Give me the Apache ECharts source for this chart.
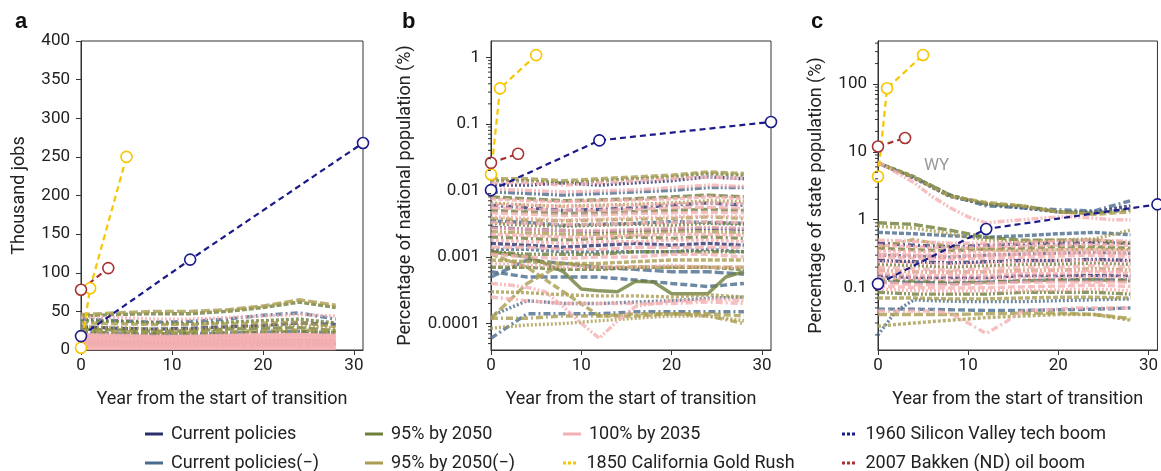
<!DOCTYPE html>
<html><head><meta charset="utf-8">
<script src="https://cdn.jsdelivr.net/npm/echarts@6/dist/echarts.min.js"></script>
<style>html,body{margin:0;padding:0;background:#fff}#c{width:1161px;height:471px}</style>
</head><body><div id="c"></div>
<script>
// ---------- x grids ----------
const YR8 = [0,4,8,12,16,20,24,28];
const YR15 = [0,2,4,6,8,10,12,14,16,18,20,22,24,26,28];

// ---------- historical booms ----------
const svYears = [0,12,31];
const sv_a = [18,117,268];
const sv_b = [0.0101,0.0565,0.107];
const sv_c = [0.113,0.73,1.68];
const grYears = [0,1,5];
const gr_a = [3,80,250];
const gr_b = [0.0174,0.342,1.08];
const gr_c = [4.33,86.5,267];
const bkYears = [0,3];
const bk_a = [78,106];
const bk_b = [0.026,0.0355];
const bk_c = [12,16];

// ---------- panel a: thousand jobs ----------
const cp_a = [[30,28,27,28,30,32,35,33],[12,11,10,11,12,12,13,12]];
const cpm_a = [[40,38,36,37,40,45,48,40],[22,21,20,21,22,23,24,22],[8,8,7,7,8,8,8,8]];
const n95_a = [[44,46,47,47,50,55,62,55],[38,37,35,34,36,38,40,35],[27,26,24,25,27,28,29,25],[23,22,21,21,22,23,24,22]];
const n95m_a = [[46,48,50,50,52,57,65,58],[35,34,33,33,34,35,36,30],[30,29,27,27,29,31,32,28],[25,24,23,23,24,25,26,24]];
const p100_a = [[42,42,40,40,42,44,46,44],[20,19,18,18,19,20,20,19],[18,18,17,17,18,18,19,18],[16,16,15,15,16,16,16,16],
  [14,14,13,13,14,14,14,14],[12,12,11,11,12,12,12,12],[10,10,9,9,10,10,10,10],[8,8,7,7,8,8,8,8],
  [6,6,5,5,6,6,6,6],[4,4,4,4,4,4,4,4],[2,2,2,2,2,2,2,2]];

// ---------- panel b: % of national population ----------
const cp_b = [
  [0.012,0.012,0.013,0.012,0.013,0.014,0.016,0.015],
  [0.006,0.0055,0.005,0.0052,0.0055,0.006,0.0065,0.006],
  [0.0028,0.0026,0.0025,0.0024,0.0025,0.0026,0.0027,0.0026],
  [0.0016,0.0015,0.0014,0.0015,0.0016,0.0015,0.0016,0.0015]];
const cpm_b = [
  [0.0095,0.009,0.0085,0.009,0.0095,0.01,0.011,0.011],
  [0.0035,0.0033,0.003,0.0031,0.0032,0.0034,0.0033,0.0032],
  [0.0013,0.0013,0.0012,0.0012,0.0012,0.0012,0.0013,0.0012],
  [0.0005,0.0009,0.0008,0.0007,0.00065,0.0006,0.0006,0.00055],
  [0.0006,0.0005,0.0005,0.0005,0.00045,0.0004,0.00036,0.0004],
  [0.00013,0.00022,0.0002,0.0002,0.00021,0.00022,0.00024,0.00025],
  [0.00006,0.00014,0.00014,0.00014,0.00015,0.00015,0.00015,0.00015]];
const n95_b = [
  [0.014,0.014,0.013,0.014,0.015,0.016,0.018,0.017],
  [0.008,0.0075,0.007,0.0072,0.0075,0.008,0.0085,0.008],
  [0.005,0.0048,0.0045,0.0046,0.0048,0.005,0.0052,0.005],
  [0.0032,0.003,0.0029,0.003,0.0031,0.003,0.0032,0.0031],
  [0.002,0.0019,0.0018,0.0019,0.002,0.0019,0.002,0.0019],
  [0.0012,0.0011,0.0011,0.0011,0.0012,0.0012,0.0012,0.0012],
  [0.0007,0.0007,0.00065,0.00065,0.0007,0.0007,0.0007,0.00065],
  [0.0012,0.0011,0.001,0.0008,0.0006,0.00033,0.00031,0.0003,0.00043,0.00042,0.00028,0.00028,0.00028,0.0005,0.0006]];
const n95m_b = [
  [0.015,0.015,0.014,0.015,0.016,0.017,0.019,0.018],
  [0.0065,0.006,0.0058,0.006,0.0062,0.0065,0.007,0.0068],
  [0.0038,0.0036,0.0035,0.0036,0.0037,0.0038,0.004,0.0038],
  [0.0024,0.0023,0.0022,0.0022,0.0023,0.0024,0.0024,0.0023],
  [0.0009,0.00085,0.0008,0.0008,0.00085,0.0009,0.0009,0.0009],
  [0.0003,0.00029,0.00027,0.00026,0.00026,0.00025,0.00027,0.00025],
  [0.00012,0.0004,0.0008,0.0007,0.0007,0.0007,0.0007,0.0007],
  [0.0011,0.0007,0.0003,0.00013,0.00013,0.00014,0.00014,0.00013],
  [0.000085,0.000095,0.0001,0.00011,0.00012,0.00013,0.00013,0.00011],
  [0.00012,0.00012,0.00013,0.00013,0.00014,0.00014,0.00013,0.0001]];
const p100_b = [
  [0.013,0.013,0.012,0.013,0.014,0.015,0.016,0.015],
  [0.0105,0.01,0.0095,0.0098,0.0102,0.011,0.012,0.0115],
  [0.0075,0.007,0.0068,0.007,0.0072,0.0075,0.008,0.0076],
  [0.0062,0.006,0.0057,0.0058,0.006,0.0063,0.0065,0.0063],
  [0.0055,0.0052,0.005,0.005,0.0052,0.0055,0.0056,0.0054],
  [0.0046,0.0044,0.0042,0.0043,0.0045,0.0046,0.0047,0.0046],
  [0.004,0.0038,0.0036,0.0037,0.0039,0.004,0.0041,0.004],
  [0.0033,0.0032,0.0031,0.0031,0.0032,0.0033,0.0034,0.0033],
  [0.0027,0.0026,0.0025,0.0025,0.0026,0.0027,0.0028,0.0027],
  [0.0022,0.0021,0.002,0.002,0.0021,0.0022,0.0022,0.0021],
  [0.0018,0.0017,0.0016,0.0017,0.0017,0.0018,0.0018,0.0017],
  [0.0014,0.0014,0.0013,0.0013,0.0014,0.0014,0.0014,0.0014],
  [0.0011,0.001,0.00095,0.001,0.001,0.0011,0.0011,0.001],
  [0.0008,0.00075,0.0007,0.0007,0.0007,0.00075,0.0007,0.0007],
  [0.00025,0.00022,0.0002,0.0002,0.0002,0.0002,0.00021,0.0002],
  [0.0004,0.00038,0.00035,0.0003,0.00018,0.0001,0.00006,0.00011,0.00018,0.0002,0.00022,0.00022,0.00023,0.00023,0.00022]];

// ---------- panel c: % of state population ----------
const cp_c = [
  [0.45,0.42,0.4,0.42,0.44,0.45,0.46,0.45],
  [0.25,0.24,0.23,0.24,0.25,0.25,0.26,0.25],
  [0.15,0.14,0.14,0.14,0.15,0.15,0.15,0.15],
  [6.8,4.1,2.2,1.7,1.5,1.3,1.3,1.6]];
const cpm_c = [
  [0.65,0.62,0.58,0.55,0.58,0.62,0.65,0.6],
  [0.3,0.29,0.28,0.3,0.31,0.32,0.33,0.32],
  [0.12,0.12,0.115,0.12,0.125,0.13,0.13,0.13],
  [0.048,0.048,0.047,0.046,0.046,0.047,0.048,0.05],
  [0.02,0.045,0.066,0.064,0.063,0.062,0.062,0.062,0.062,0.063,0.064,0.065,0.066,0.067,0.068],
  [6.8,4.2,2.3,1.6,1.5,1.4,1.35,1.9]];
const n95_c = [
  [0.9,0.85,0.7,0.55,0.5,0.5,0.5,0.45],
  [0.38,0.36,0.35,0.37,0.38,0.4,0.4,0.38],
  [0.22,0.21,0.2,0.21,0.22,0.22,0.23,0.22],
  [0.13,0.125,0.12,0.12,0.125,0.13,0.13,0.125],
  [0.085,0.08,0.08,0.08,0.085,0.085,0.085,0.08],
  [6.9,4.3,2.3,1.7,1.6,1.3,1.25,1.4]];
const n95m_c = [
  [0.8,0.75,0.62,0.5,0.48,0.5,0.52,0.7],
  [0.39,0.51,0.4,0.36,0.35,0.36,0.37,0.36],
  [0.18,0.17,0.17,0.17,0.18,0.18,0.19,0.18],
  [0.07,0.07,0.068,0.068,0.07,0.072,0.072,0.07],
  [0.027,0.03,0.033,0.036,0.038,0.04,0.04,0.033],
  [0.04,0.04,0.04,0.041,0.042,0.042,0.04,0.035],
  [6.8,4.2,2.2,1.8,1.6,1.3,1.2,1.3]];
const p100_c = [
  [0.5,0.48,0.45,0.45,0.46,0.48,0.5,0.48],
  [0.42,0.4,0.38,0.4,0.41,0.42,0.43,0.42],
  [0.35,0.34,0.33,0.34,0.35,0.36,0.36,0.35],
  [0.31,0.3,0.29,0.3,0.31,0.32,0.33,0.31],
  [0.28,0.27,0.26,0.27,0.28,0.29,0.3,0.28],
  [0.24,0.23,0.22,0.23,0.24,0.25,0.25,0.24],
  [0.2,0.19,0.18,0.19,0.2,0.2,0.21,0.2],
  [0.18,0.17,0.165,0.17,0.175,0.18,0.18,0.175],
  [0.16,0.15,0.15,0.15,0.16,0.16,0.17,0.16],
  [0.14,0.135,0.13,0.135,0.14,0.14,0.145,0.14],
  [0.12,0.11,0.11,0.115,0.12,0.12,0.12,0.12],
  [0.105,0.1,0.098,0.1,0.102,0.105,0.108,0.104],
  [0.095,0.09,0.088,0.09,0.09,0.092,0.095,0.09],
  [0.045,0.045,0.045,0.045,0.042,0.03,0.021,0.03,0.045,0.047,0.048,0.05,0.05,0.05,0.05],
  [7,5,3.5,2.2,1.5,1.1,0.9,0.95,1,1.05,1.1,1.1,1.05,1,1]];

// ---------- log-axis tick decades & minor multipliers ----------
const decB = [0.00001,0.0001,0.001,0.01,0.1,1];
const decC = [0.01,0.1,1,10,100];
const MINOR = [2,3,4,5,6,7,8,9];

// ---------- names / colours ----------
const SCEN = ['Current policies','Current policies(−)','95% by 2050','95% by 2050(−)','100% by 2035'];
const HIST = ['1960 Silicon Valley tech boom','1850 California Gold Rush','2007 Bakken (ND) oil boom'];
const COL = {'Current policies':'#2b2f6e','Current policies(−)':'#4a6b8c','95% by 2050':'#6f7e3a','95% by 2050(−)':'#aa9c50','100% by 2035':'#f4afb0',
  '1960 Silicon Valley tech boom':'#1b1b8a','1850 California Gold Rush':'#f7c600','2007 Bakken (ND) oil boom':'#a83232'};

const DASH = [[7,3],[2,2],[7,3,2,3],[7,2,2,2,2,2],[5,2],[3,2],[9,3]];

const FONT = 'Roboto, "Open Sans", sans-serif';
const series = [];
function addBundle(lines, name, g, k){
  lines.forEach((ys,i)=>{
    const xs = ys.length === 15 ? YR15 : YR8;
    const solid = (g===1 && name==='95% by 2050' && ys.length===15) || (g===0 && name==='100% by 2035' && i>0);
    series.push({type:'line', name, xAxisIndex:g, yAxisIndex:g, silent:true, animation:false,
      data: xs.map((x,j)=>[x,ys[j]]), symbol:'none', z:2,
      lineStyle:{color:COL[name], width:3.4, opacity:0.8, type: solid ? 'solid' : DASH[(i+k)%DASH.length]},
      itemStyle:{color:COL[name]}});
  });
}
function addHist(xs, ys, name, g){
  series.push({type:'line', name, xAxisIndex:g, yAxisIndex:g, silent:true, animation:false, z:5,
    data: xs.map((x,j)=>[x,ys[j]]), symbol:'circle', symbolSize:11,
    lineStyle:{color:COL[name], width:2.2, type:[6,4]},
    itemStyle:{color:'#fff', borderColor:COL[name], borderWidth:1.6}});
}
function addMinor(decs, lo, hi, g){
  const vals = [];
  decs.forEach(d=>MINOR.forEach(m=>{ const v=+(d*m).toPrecision(3); if(v>lo && v<hi) vals.push([0,v]); }));
  series.push({type:'custom', xAxisIndex:g, yAxisIndex:g, silent:true, animation:false, clip:false, z:6,
    data: vals,
    renderItem:(params, api)=>{ const p = api.coord([0, api.value(1)]);
      return {type:'line', shape:{x1:p[0]-3, y1:p[1], x2:p[0], y2:p[1]}, style:{stroke:'#333', lineWidth:1}}; }});
}
const panels = [
  [cp_a,cpm_a,n95_a,n95m_a,p100_a, sv_a, gr_a, bk_a],
  [cp_b,cpm_b,n95_b,n95m_b,p100_b, sv_b, gr_b, bk_b],
  [cp_c,cpm_c,n95_c,n95m_c,p100_c, sv_c, gr_c, bk_c]];
panels.forEach((p,g)=>{
  SCEN.forEach((s,k)=>addBundle(p[k], s, g, k*2+g));
  addHist(grYears, p[6], HIST[1], g);
  addHist(bkYears, p[7], HIST[2], g);
  addHist(svYears, p[5], HIST[0], g);
});

const grids = [
  {left:81, top:41, width:282, height:309},
  {left:491, top:41, width:280, height:309},
  {left:878, top:41, width:282, height:309}];
const yMin = [0, 0.00004, 0.012], yMax = [400, 1.76, 430];
addMinor(decB, yMin[1], yMax[1], 1);
addMinor(decC, yMin[2], yMax[2], 2);

const axisTxt = {color:'#222', fontSize:17, fontFamily:FONT};
const xAxes = grids.map((g,i)=>({type:'value', gridIndex:i, min:0, max:31, interval:10,
  splitLine:{show:false}, axisLine:{show:true, lineStyle:{color:'#333'}},
  axisTick:{show:true, length:5, lineStyle:{color:'#333'}},
  axisLabel:Object.assign({margin:7, showMaxLabel:false}, axisTxt),
  name:'Year from the start of transition', nameLocation:'middle', nameGap:40,
  nameTextStyle:{color:'#222', fontSize:18, fontFamily:FONT}}));
const yNames = ['Thousand jobs','Percentage of national population (%)','Percentage of state population (%)'];
const yAxes = [
  {type:'value', gridIndex:0, min:yMin[0], max:yMax[0], interval:50, nameGap:53},
  {type:'log', gridIndex:1, min:yMin[1], max:yMax[1], logBase:10, nameGap:77,
    axisLabel:{showMinLabel:false, showMaxLabel:false, formatter:v=>String(+v.toPrecision(3))}},
  {type:'log', gridIndex:2, min:yMin[2], max:yMax[2], logBase:10, nameGap:53,
    axisLabel:{showMinLabel:false, showMaxLabel:false, formatter:v=>String(+v.toPrecision(3))}}
].map((a,i)=>Object.assign(a, {
  splitLine:{show:false}, axisLine:{show:true, lineStyle:{color:'#333'}},
  axisTick:{show:true, length:5, lineStyle:{color:'#333'}},
  axisLabel:Object.assign({margin:11}, axisTxt, a.axisLabel||{}),
  name:yNames[i], nameLocation:'middle', nameRotate:90,
  nameTextStyle:{color:'#222', fontSize:18, fontFamily:FONT}}));

const legendPos = [
  ['Current policies',145,425],['95% by 2050',365,425],['100% by 2035',563,425],['1960 Silicon Valley tech boom',842,425],
  ['Current policies(−)',145,454],['95% by 2050(−)',365,454],['1850 California Gold Rush',563,454],['2007 Bakken (ND) oil boom',842,454]];
const DOTS = 'path://M0,0h3v3h-3z M5,0h3v3h-3z M10,0h3v3h-3z';
const legends = legendPos.map(([n,x,y])=>({left:x, top:y, padding:0, selectedMode:false, itemWidth:18, itemHeight:3, itemGap:0,
  icon: HIST.includes(n) ? DOTS : 'rect',
  textStyle:{color:'#222', fontSize:18, fontFamily:FONT, padding:[0,0,0,3]},
  data:[{name:n, itemStyle:{color:COL[n], opacity:1, borderWidth:0}}]}));

const titles = [['a',10],['b',397],['c',806]].map(([t,x])=>({text:t, left:x, top:6,
  textStyle:{fontSize:22, fontWeight:'bold', color:'#111', fontFamily:'Arial, "Liberation Sans", sans-serif'}}));

const chart = echarts.init(document.getElementById('c'), null, {renderer:'canvas'});
chart.setOption({
  animation:false,
  title: titles,
  grid: grids.map(g=>Object.assign({show:true, borderColor:'#333', borderWidth:1, backgroundColor:'transparent'}, g)),
  xAxis: xAxes, yAxis: yAxes, legend: legends, series,
  graphic:[{type:'text', left:924, top:157, style:{text:'WY', fontSize:17, fill:'#999', fontFamily:FONT}}]
});
</script></body></html>
